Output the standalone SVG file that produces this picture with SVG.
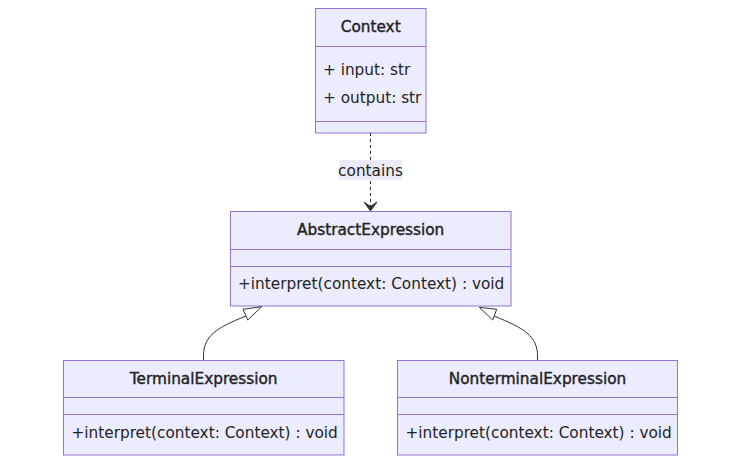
<svg xmlns="http://www.w3.org/2000/svg" width="741" height="464" viewBox="0 0 741 464">
<style>
.box{fill:#ECECFF;stroke:#9370DB;stroke-width:1}
.div{stroke:#9370DB;stroke-width:1}
.t{font-family:"DejaVu Sans",Verdana,sans-serif;font-size:15.3px;fill:#222}
.title{text-anchor:middle;stroke:#222;stroke-width:0.4}
.edge{fill:none;stroke:#333;stroke-width:1}
</style>
<rect width="741" height="464" fill="#ffffff"/>
<g id="Context">
<rect class="box" x="315.5" y="8.5" width="110.5" height="124.5"/>
<line class="div" x1="315.5" y1="46.5" x2="426" y2="46.5"/>
<line class="div" x1="315.5" y1="121.5" x2="426" y2="121.5"/>
<text class="t title" x="370.7" y="31.5">Context</text>
<text class="t" x="323" y="74.5">+ input: str</text>
<text class="t" x="323" y="103">+ output: str</text>
</g>
<g id="AbstractExpression">
<rect class="box" x="230.5" y="211.5" width="280.5" height="94.5"/>
<line class="div" x1="230.5" y1="249.5" x2="511" y2="249.5"/>
<line class="div" x1="230.5" y1="266.5" x2="511" y2="266.5"/>
<text class="t title" x="370.7" y="235">AbstractExpression</text>
<text class="t" x="238" y="289">+interpret(context: Context) : void</text>
</g>
<g id="TerminalExpression">
<rect class="box" x="63.5" y="360.5" width="280.5" height="94.5"/>
<line class="div" x1="63.5" y1="397.5" x2="344" y2="397.5"/>
<line class="div" x1="63.5" y1="414.5" x2="344" y2="414.5"/>
<text class="t title" x="203.7" y="384">TerminalExpression</text>
<text class="t" x="71.5" y="438">+interpret(context: Context) : void</text>
</g>
<g id="NonterminalExpression">
<rect class="box" x="397.5" y="360.5" width="280" height="94.5"/>
<line class="div" x1="397.5" y1="397.5" x2="677.5" y2="397.5"/>
<line class="div" x1="397.5" y1="414.5" x2="677.5" y2="414.5"/>
<text class="t title" x="537.5" y="384">NonterminalExpression</text>
<text class="t" x="405.5" y="438">+interpret(context: Context) : void</text>
</g>
<g id="connectors">
<path class="edge" d="M370.5,133 L370.5,209" stroke-dasharray="3,3"/>
<path d="M364,202 L370.5,211 L377,202 L370.5,206.5 Z" fill="#333" stroke="#333" stroke-width="1" stroke-linejoin="round"/>
<rect x="339" y="160" width="63" height="20" fill="#E8E8F8" opacity="0.9"/>
<text class="t" x="370.5" y="175.5" text-anchor="middle">contains</text>
<path class="edge" d="M203.5,360 L203.5,356 C203.5,336 216,328 246,316"/>
<polygon points="243,309.3 261.7,306.7 247.7,320" fill="#ffffff" stroke="#333" stroke-width="1"/>
<path class="edge" d="M537.5,360 L537.5,356 C537.5,336 524,328 494,316"/>
<polygon points="479.3,307.3 496.7,309.3 492.7,320" fill="#ffffff" stroke="#333" stroke-width="1"/>
</g>
</svg>
